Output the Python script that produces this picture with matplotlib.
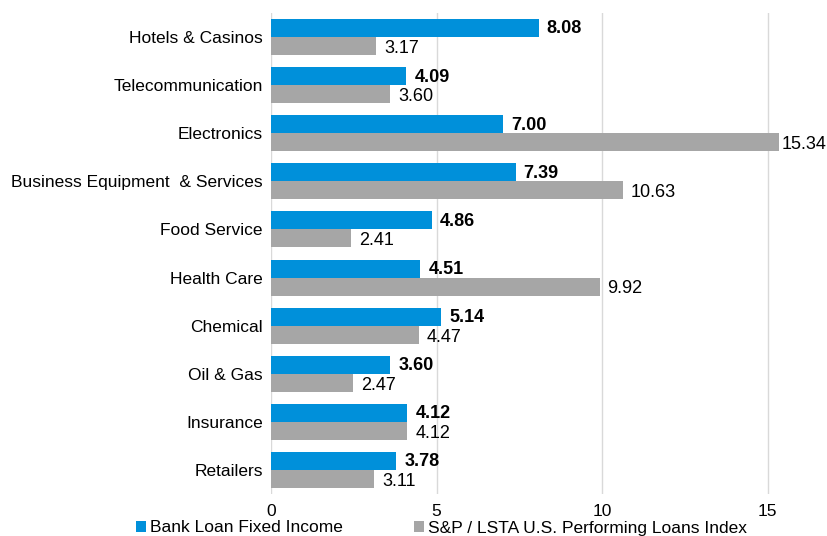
import matplotlib
matplotlib.use("Agg")
import matplotlib.pyplot as plt
from matplotlib.transforms import offset_copy
import numpy as np

categories = ["Hotels & Casinos", "Telecommunication", "Electronics",
              "Business Equipment  & Services", "Food Service", "Health Care",
              "Chemical", "Oil & Gas", "Insurance", "Retailers"]
bank_loan = [8.08, 4.09, 7.00, 7.39, 4.86, 4.51, 5.14, 3.60, 4.12, 3.78]
index_vals = [3.17, 3.60, 15.34, 10.63, 2.41, 9.92, 4.47, 2.47, 4.12, 3.11]
series_names = ["Bank Loan Fixed Income", "S&P / LSTA U.S. Performing Loans Index"]
xticks = [0, 5, 10, 15]

plt.rcParams['font.family'] = ['Liberation Sans', 'DejaVu Sans']
BLUE = "#0090DA"
GRAY = "#A6A6A6"
FS = 12.5

fig = plt.figure(figsize=(8.28, 5.36), dpi=100)
ax = fig.add_axes([271/828, 1-494/536, (781-271)/828, (494-13)/536])

n = len(categories)
y = np.arange(n)
h = 0.375
ax.barh(y - h/2, bank_loan, height=h, color=BLUE, label=series_names[0], zorder=3)
ax.barh(y + h/2, index_vals, height=h, color=GRAY, label=series_names[1], zorder=3)

xmax = 15.4
ax.set_xlim(0, xmax)

def pad_px(v):
    # outside-end label offset, squeezed when near the right edge
    return 8 if v < 14.5 else 3

for yi, v in zip(y, bank_loan):
    tr = offset_copy(ax.transData, fig=fig, x=pad_px(v), y=0, units="dots")
    ax.text(v, yi - h/2 + 0.02, f"{v:.2f}", va="center", ha="left", transform=tr,
            fontsize=13, fontweight="bold", color="black", clip_on=False)
for yi, v in zip(y, index_vals):
    tr = offset_copy(ax.transData, fig=fig, x=pad_px(v), y=0, units="dots")
    ax.text(v, yi + h/2 + 0.05, f"{v:.2f}", va="center", ha="left", transform=tr,
            fontsize=13, color="black", clip_on=False)

ax.set_ylim(n - 0.5, -0.5)
ax.set_yticks(y)
ax.set_yticklabels(categories, fontsize=FS)
ax.set_xticks(xticks)
ax.set_xticklabels([str(t) for t in xticks], fontsize=FS)
ax.tick_params(axis="both", length=0)
ax.tick_params(axis="x", pad=7)
ax.tick_params(axis="y", pad=6)
for s in ax.spines.values():
    s.set_visible(False)
ax.grid(axis="x", color="#D9D9D9", linewidth=1, zorder=0)

handles, labels = ax.get_legend_handles_labels()
fig.legend(handles, labels, loc="center", bbox_to_anchor=(0.533, 1-528/536),
           ncol=2, frameon=False, fontsize=FS, handlelength=0.6, handleheight=0.6,
           handletextpad=0.2, columnspacing=4.1, borderaxespad=0, borderpad=0)

fig.savefig("out.png", dpi=100)
